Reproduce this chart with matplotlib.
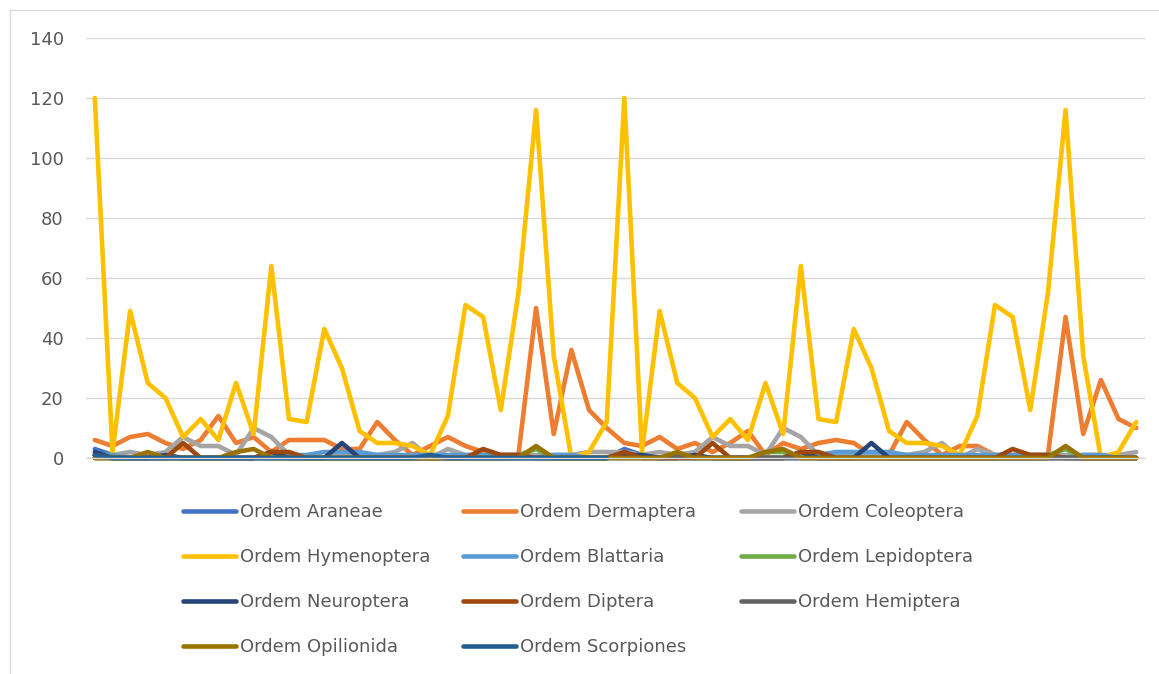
import matplotlib.pyplot as plt
from matplotlib.lines import Line2D
from matplotlib.patches import Rectangle
import numpy as np

# capturas por amostra (60 pontos; Scorpiones só nos 30 primeiros)
araneae = [3, 1, 0, 0, 0, 0, 0, 0, 0, 0, 0, 0, 0, 0, 0, 0, 0, 0, 0, 0, 0, 0, 0, 0, 0, 0, 0, 0, 0, 0,
           3, 1, 0, 0, 0, 0, 0, 0, 0, 0, 0, 0, 0, 0, 0, 0, 0, 0, 0, 0, 0, 0, 0, 0, 0, 0, 0, 0, 0, 0]
dermaptera = [6, 4, 7, 8, 5, 3, 6, 14, 5, 7, 2, 6, 6, 6, 3, 3, 12, 6, 1, 4, 7, 4, 2, 1, 1, 50, 8, 36, 16, 10,
              5, 4, 7, 3, 5, 2, 5, 9, 1, 5, 3, 5, 6, 5, 1, 1, 12, 6, 1, 4, 4, 1, 1, 1, 1, 47, 8, 26, 13, 10]
coleoptera = [1, 1, 2, 1, 2, 7, 4, 4, 1, 10, 7, 1, 0, 0, 1, 1, 1, 2, 5, 0, 3, 1, 1, 1, 1, 1, 1, 1, 2, 2,
              2, 1, 2, 1, 2, 7, 4, 4, 1, 10, 7, 1, 1, 1, 1, 1, 1, 2, 5, 0, 3, 1, 1, 1, 1, 1, 1, 1, 1, 2]
hymenoptera = [120, 2, 49, 25, 20, 7, 13, 6, 25, 8, 64, 13, 12, 43, 30, 9, 5, 5, 4, 1, 14, 51, 47, 16, 55, 116, 34, 0, 2, 12,
               120, 2, 49, 25, 20, 7, 13, 6, 25, 8, 64, 13, 12, 43, 30, 9, 5, 5, 4, 1, 14, 51, 47, 16, 55, 116, 34, 0, 2, 12]
blattaria = [1, 1, 0, 0, 0, 0, 0, 0, 0, 0, 0, 1, 1, 2, 2, 2, 1, 1, 1, 1, 1, 1, 1, 1, 1, 0, 1, 1, 0, 0,
             1, 1, 0, 0, 0, 0, 0, 0, 0, 0, 0, 1, 2, 2, 2, 2, 1, 1, 1, 1, 1, 1, 1, 1, 1, 0, 1, 1, 0, 0]
lepidoptera = [0, 0, 0, 0, 0, 0, 0, 0, 0, 0, 0, 0, 0, 0, 0, 0, 0, 0, 0, 0, 0, 0, 0, 0, 1, 3, 0, 0, 0, 0,
               0, 0, 0, 0, 0, 0, 0, 0, 2, 2, 0, 0, 0, 0, 0, 0, 0, 0, 0, 0, 0, 0, 0, 0, 1, 3, 0, 0, 0, 0]
neuroptera = [2, 0, 0, 0, 1, 0, 0, 0, 0, 0, 2, 0, 0, 0, 5, 0, 0, 0, 0, 0, 0, 0, 0, 0, 0, 0, 0, 0, 0, 0,
              1, 1, 0, 0, 1, 0, 0, 0, 0, 0, 2, 0, 0, 0, 5, 0, 0, 0, 0, 0, 0, 0, 0, 0, 0, 0, 0, 0, 0, 0]
diptera = [1, 0, 0, 0, 0, 5, 0, 0, 0, 0, 2, 2, 0, 0, 0, 0, 0, 0, 0, 0, 0, 0, 3, 1, 1, 0, 0, 0, 0, 0,
           2, 0, 0, 0, 0, 5, 0, 0, 0, 0, 2, 2, 0, 0, 0, 0, 0, 0, 0, 0, 0, 0, 3, 1, 1, 0, 0, 0, 0, 0]
hemiptera = [0, 0, 0, 0, 0, 0, 0, 0, 0, 0, 0, 0, 0, 0, 0, 0, 0, 0, 0, 0, 0, 0, 0, 0, 0, 0, 0, 0, 0, 0,
             0, 0, 0, 1, 0, 0, 0, 0, 0, 0, 0, 0, 0, 0, 0, 0, 0, 0, 0, 0, 0, 0, 0, 0, 0, 0, 0, 0, 0, 0]
opilionida = [0, 0, 0, 2, 0, 0, 0, 0, 2, 3, 0, 0, 0, 0, 0, 0, 0, 0, 0, 0, 0, 0, 0, 0, 0, 4, 0, 0, 0, 0,
              0, 0, 0, 2, 0, 0, 0, 0, 2, 3, 0, 0, 0, 0, 0, 0, 0, 0, 0, 0, 0, 0, 0, 0, 0, 4, 0, 0, 0, 0]
scorpiones = [1, 0, 0, 0, 0, 0, 0, 0, 0, 0, 0, 0, 0, 0, 0, 0, 0, 0, 0, 1, 0, 0, 0, 0, 0, 0, 0, 0, 0, 0]

series = [
    ('Ordem Araneae', araneae, '#4472C4'),
    ('Ordem Dermaptera', dermaptera, '#ED7D31'),
    ('Ordem Coleoptera', coleoptera, '#A5A5A5'),
    ('Ordem Hymenoptera', hymenoptera, '#FFC000'),
    ('Ordem Blattaria', blattaria, '#5B9BD5'),
    ('Ordem Lepidoptera', lepidoptera, '#70AD47'),
    ('Ordem Neuroptera', neuroptera, '#264478'),
    ('Ordem Diptera', diptera, '#9E480E'),
    ('Ordem Hemiptera', hemiptera, '#636363'),
    ('Ordem Opilionida', opilionida, '#997300'),
    ('Ordem Scorpiones', scorpiones, '#255E91'),
]

W, H = 1159, 674
fig = plt.figure(figsize=(W / 100, H / 100), dpi=100)
ax = fig.add_axes([86 / W, 1 - 458 / H, (1145 - 86) / W, (458 - 38) / H])

lw = 3.3
handles = []
for name, vals, col in series:
    x = np.arange(len(vals))
    ax.plot(x, vals, color=col, lw=lw, solid_capstyle='round',
            solid_joinstyle='round', clip_on=False)
    handles.append(Line2D([], [], color=col, lw=lw, solid_capstyle='round', label=name))

ax.set_xlim(-0.5, 59.5)
ax.set_ylim(0, 140)
ax.set_yticks(range(0, 141, 20))
ax.set_xticks([])
ax.yaxis.grid(True, color='#D9D9D9', lw=1.0)
ax.set_axisbelow(True)
for s in ['top', 'right', 'left']:
    ax.spines[s].set_visible(False)
ax.spines['bottom'].set_color('#D9D9D9')
ax.spines['bottom'].set_linewidth(1.0)
ax.tick_params(axis='y', length=0, pad=16, labelsize=13, labelcolor='#595959')

# legenda em 3 colunas, preenchida por linha
col_x = [183, 463, 741]
for c in range(3):
    hs = handles[c::3]
    fig.legend(handles=hs, loc='upper left', bbox_to_anchor=(col_x[c] / W, 1 - 503 / H),
               frameon=False, fontsize=13, labelcolor='#595959', handlelength=2.95,
               handletextpad=0.2, borderpad=0, borderaxespad=0, labelspacing=1.5)

fig.add_artist(Rectangle((10 / W, -0.05), 1.0, 1.05 - 10 / H, transform=fig.transFigure,
                         fill=False, edgecolor='#D9D9D9', lw=1.0))

plt.savefig('out.png', dpi=100)
